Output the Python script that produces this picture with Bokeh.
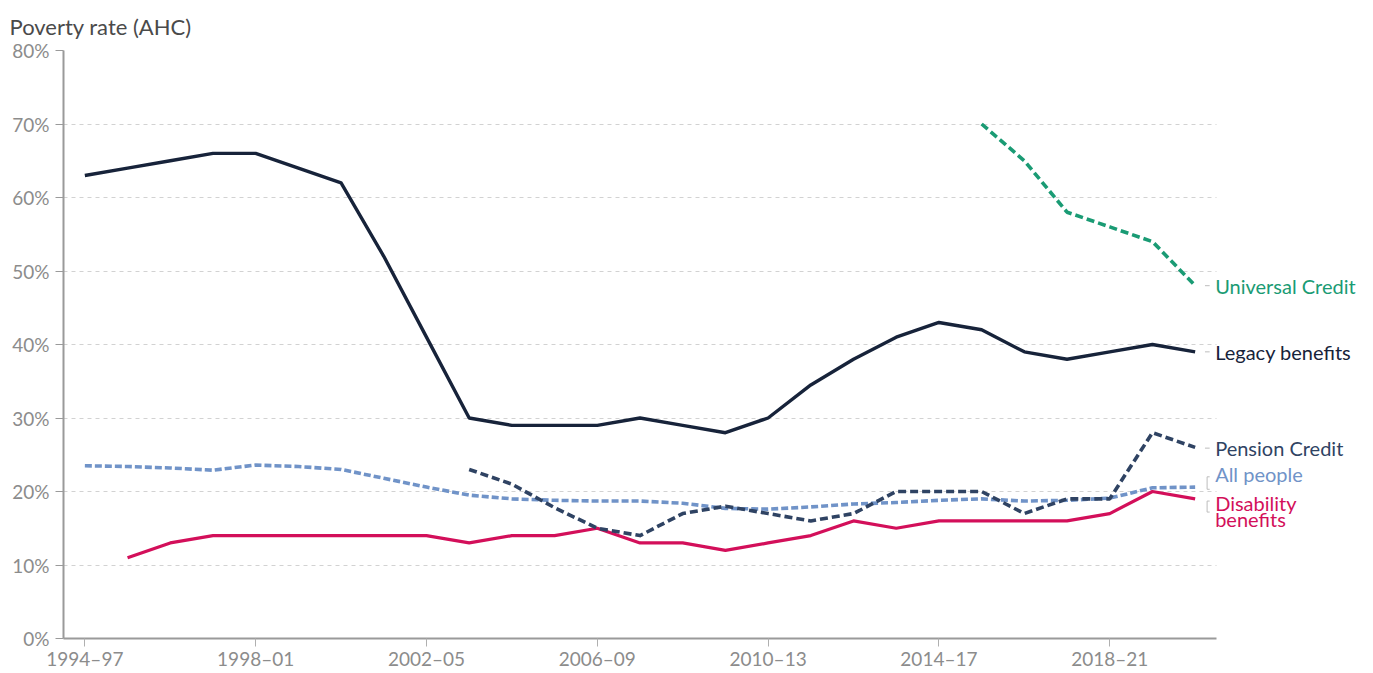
from bokeh.plotting import figure
from bokeh.models import Range1d, FixedTicker, Label, Arrow
from bokeh.embed import file_html
from bokeh.resources import INLINE

# ---------------- data ----------------
periods = [f"{y}\u2013{str(y + 3)[-2:]}" for y in range(1994, 2021)]
tick_idx = [0, 4, 8, 12, 16, 20, 24]
y_ticks = [0, 10, 20, 30, 40, 50, 60, 70, 80]

legacy = [63, 64, 65, 66, 66, 64, 62, 52, 41, 30, 29, 29, 29, 30, 29, 28, 30,
          34.5, 38, 41, 43, 42, 39, 38, 39, 40, 39]
universal_credit = [None] * 21 + [70, 65, 58, 56, 54, 48]
pension_credit = [None] * 9 + [23, 21, 17.8, 15, 14, 17, 18, 17, 16, 17, 20,
                               20, 20, 17, 19, 19, 28, 26]
all_people = [23.5, 23.4, 23.2, 22.9, 23.6, 23.4, 23.0, 21.8, 20.6, 19.5, 19.0,
              18.8, 18.7, 18.7, 18.4, 17.7, 17.6, 17.9, 18.3, 18.5, 18.8, 19.0,
              18.7, 18.8, 19.1, 20.5, 20.6]
disability = [None, 11, 13, 14, 14, 14, 14, 14, 14, 13, 14, 14, 15, 13, 13, 12,
              13, 14, 16, 15, 16, 16, 16, 16, 17, 20, 19]

FONT = "Lato"
C_LEGACY = "#17233a"
C_UC = "#1a9b74"
C_PC = "#2f4363"
C_ALL = "#7093c8"
C_DIS = "#d30f5a"
GREY = "#8c8c8c"

n = len(periods)
last = n - 1
X_END = -0.5 + 1300 / (1153 / 27)   # extra room on the right for the labels


def xy(vals):
    xs = [i for i, v in enumerate(vals) if v is not None]
    ys = [v for v in vals if v is not None]
    return xs, ys


p = figure(width=1368, height=672,
           x_range=Range1d(-0.5, X_END), y_range=Range1d(0, 80),
           output_backend="svg", toolbar_location=None,
           min_border_left=63, min_border_right=5,
           min_border_top=49, min_border_bottom=33)
p.outline_line_color = None
p.background_fill_color = "white"
p.border_fill_color = "white"

# title
p.title.text = "Poverty rate (AHC)"
p.title.align = "left"
p.title.offset = -54
p.title.text_font = FONT
p.title.text_font_size = "22px"
p.title.text_font_style = "normal"
p.title.text_color = "#4a4a4a"
p.title.standoff = 21

# axes
for ax in (p.xaxis[0], p.yaxis[0]):
    ax.axis_line_color = "#9a9a9a"
    ax.axis_line_width = 2
    ax.major_tick_line_color = "#9a9a9a"
    ax.major_tick_out = 8
    ax.major_tick_in = 0
    ax.minor_tick_line_color = None
    ax.major_label_text_font = FONT
    ax.major_label_text_font_size = "19px"
    ax.major_label_text_color = GREY

p.xaxis.bounds = (-0.5, n - 0.5)
p.yaxis.ticker = FixedTicker(ticks=y_ticks)
p.yaxis.major_label_overrides = {t: f"{t}%" for t in y_ticks}
p.yaxis.major_label_standoff = 6
p.xaxis.ticker = FixedTicker(ticks=tick_idx)
p.xaxis.major_label_overrides = {i: periods[i] for i in tick_idx}
p.xaxis.major_label_standoff = 0
p.xaxis.major_tick_line_color = "#b0b0b0"
p.xaxis.major_tick_line_width = 1

p.xgrid.grid_line_color = None
p.ygrid.grid_line_color = "#d2d2d2"
p.ygrid.grid_line_dash = "4 4"
p.ygrid.grid_line_width = 1
p.ygrid.cross_bounds = (-0.5, n - 0.5)

# series
x, y = xy(all_people)
p.line(x, y, line_color=C_ALL, line_width=3.6, line_dash="7 3", line_join="round")
x, y = xy(disability)
p.line(x, y, line_color=C_DIS, line_width=3.2, line_join="round")
x, y = xy(pension_credit)
p.line(x, y, line_color=C_PC, line_width=3.6, line_dash="8 4", line_join="round")
x, y = xy(legacy)
p.line(x, y, line_color=C_LEGACY, line_width=3.4, line_join="round")
x, y = xy(universal_credit)
p.line(x, y, line_color=C_UC, line_width=3.6, line_dash="8 4", line_join="round")


# labels
def add_label(text, yv, color):
    p.add_layout(Label(x=last, y=yv, x_offset=20, text=text,
                       text_font=FONT, text_font_size="20px",
                       text_color=color, text_baseline="middle",
                       text_align="left"))


add_label("Universal Credit", 48, C_UC)
add_label("Legacy benefits", 39, C_LEGACY)
add_label("Pension Credit", 25.9, C_PC)
add_label("All people", 22.4, C_ALL)
add_label("Disability", 18.5, C_DIS)
add_label("benefits", 16.2, C_DIS)


def seg(x0, y0, x1, y1):
    p.add_layout(Arrow(end=None, start=None, x_start=x0, y_start=y0,
                       x_end=x1, y_end=y1, line_color="#bdbdbd", line_width=1))


# connectors
for yv in (48, 39, 25.9):
    seg(last + 0.23, yv, last + 0.34, yv)
# bracket for All people
seg(last + 0.28, 22.0, last + 0.28, 20.3)
seg(last + 0.28, 22.0, last + 0.34, 22.0)
seg(last + 0.28, 20.3, last + 0.34, 20.3)
# bracket for Disability
seg(last + 0.28, 18.7, last + 0.28, 17.2)
seg(last + 0.28, 18.7, last + 0.34, 18.7)
seg(last + 0.28, 17.2, last + 0.34, 17.2)

open("out.html", "w").write(file_html(p, INLINE))
